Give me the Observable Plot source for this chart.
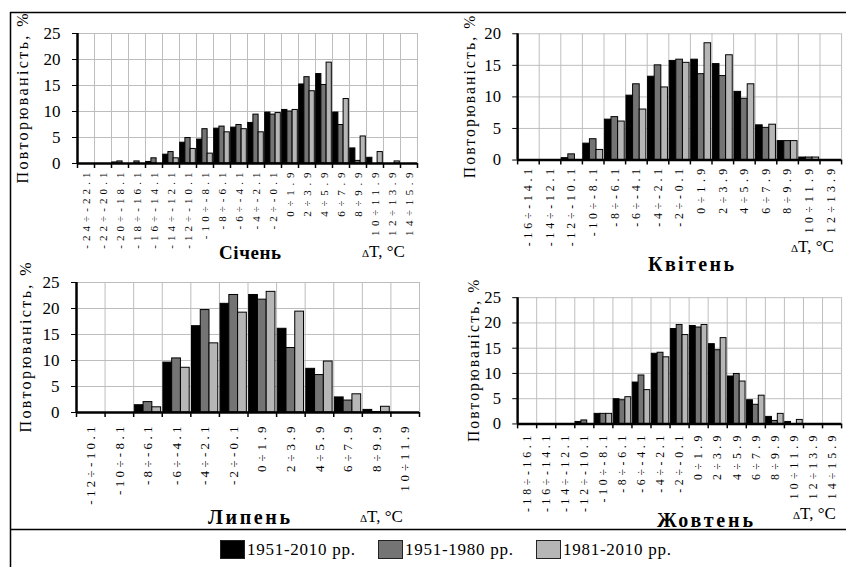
<!DOCTYPE html>
<html>
<head>
<meta charset="utf-8">
<script src="https://cdn.jsdelivr.net/npm/d3@7"></script>
<script src="https://cdn.jsdelivr.net/npm/@observablehq/plot@0.6"></script>
<style>
  html, body { margin: 0; padding: 0; background: #fff; }
  #wrap { position: relative; width: 846px; height: 567px; overflow: hidden; background: #fff; font-family: 'Liberation Serif', 'Times New Roman', Tinos, serif; }
  #wrap > svg, #wrap > .panel { position: absolute; }
  .panel svg { overflow: visible; }
</style>
</head>
<body>
<div id="wrap"></div>
<script>
// ---------- data ----------
const series = ["1951-2010 рр.", "1951-1980 рр.", "1981-2010 рр."];
const seriesColors = ["#000000", "#747474", "#b6b6b6"];

const janBins = ["-24÷-22.1","-22÷-20.1","-20÷-18.1","-18÷-16.1","-16÷-14.1","-14÷-12.1","-12÷-10.1","-10÷-8.1","-8÷-6.1","-6÷-4.1","-4÷-2.1","-2÷-0.1","0÷1.9","2÷3.9","4÷5.9","6÷7.9","8÷9.9","10÷11.9","12÷13.9","14÷15.9"];
const jan_1951_2010 = [0,0,0.2,0,0.3,1.7,4.0,4.6,6.7,6.9,7.8,9.8,10.3,15.2,17.2,9.8,2.9,1.1,0,0];
const jan_1951_1980 = [0,0,0.4,0.4,1.0,2.2,4.9,6.6,7.1,7.4,9.4,9.4,10.0,16.6,15.1,7.4,0.5,0,0,0];
const jan_1981_2010 = [0,0,0,0,0,1.0,2.8,1.9,6.0,6.6,6.0,9.7,10.3,13.9,19.4,12.4,5.2,2.2,0.4,0];

const aprBins = ["-16÷-14.1","-14÷-12.1","-12÷-10.1","-10÷-8.1","-8÷-6.1","-6÷-4.1","-4÷-2.1","-2÷-0.1","0÷1.9","2÷3.9","4÷5.9","6÷7.9","8÷9.9","10÷11.9","12÷13.9"];
const apr_1951_2010 = [0,0,0.3,2.6,6.4,10.2,13.2,15.7,15.9,15.2,10.8,5.5,3.0,0.4,0];
const apr_1951_1980 = [0,0,0.9,3.3,6.8,12.0,15.0,15.9,13.6,13.3,9.7,5.1,3.0,0.4,0];
const apr_1981_2010 = [0,0,0,1.6,6.1,8.0,11.5,15.4,18.5,16.6,12.0,5.6,3.0,0.4,0];

const julBins = ["-12÷-10.1","-10÷-8.1","-8÷-6.1","-6÷-4.1","-4÷-2.1","-2÷-0.1","0÷1.9","2÷3.9","4÷5.9","6÷7.9","8÷9.9","10÷11.9"];
const jul_1951_2010 = [0,0,1.4,9.6,16.6,20.9,22.6,16.1,8.4,2.9,0.5,0];
const jul_1951_1980 = [0,0,2.0,10.4,19.7,22.6,21.7,12.4,7.2,2.3,0.1,0];
const jul_1981_2010 = [0,0,1.0,8.6,13.3,19.2,23.2,19.4,9.8,3.5,1.1,0];

const octBins = ["-18÷-16.1","-16÷-14.1","-14÷-12.1","-12÷-10.1","-10÷-8.1","-8÷-6.1","-6÷-4.1","-4÷-2.1","-2÷-0.1","0÷1.9","2÷3.9","4÷5.9","6÷7.9","8÷9.9","10÷11.9","12÷13.9","14÷15.9"];
const oct_1951_2010 = [0,0,0,0.4,2.0,4.9,8.2,13.9,18.8,19.4,15.8,9.4,4.7,1.4,0.4,0,0];
const oct_1951_1980 = [0,0,0,0.7,2.0,4.7,9.6,14.1,19.6,19.1,14.6,9.9,3.8,0.6,0,0,0];
const oct_1981_2010 = [0,0,0,0,2.0,5.3,6.7,13.2,17.6,19.6,17.0,8.4,5.6,2.0,0.8,0,0];

const ticks25 = [0, 5, 10, 15, 20, 25];
const ticks20 = [0, 5, 10, 15, 20];

const yTitle = "Повторюваність, %";
const months = ["Січень", "Квітень", "Липень", "Жовтень"];
const dT = "ΔT, °C";

// ---------- drawing ----------
const FONT = "Liberation Serif";
const wrap = document.getElementById("wrap");
const glyphEm = {"-": 0.333, "÷": 0.549, ".": 0.25};
const emLength = s => d3.sum(Array.from(s), c => glyphEm[c] ?? 0.5);

function panel(cfg) {
  const n = cfg.bins.length;
  const rows = [];
  cfg.values.forEach((arr, k) => arr.forEach((v, i) => { if (v > 0) rows.push({i, k, v, s: series[k]}); }));
  const pad = 0.04, bw = (1 - 2 * pad) / 3;
  const svg = Plot.plot({
    width: cfg.w, height: cfg.h,
    marginLeft: cfg.ml, marginRight: cfg.mr, marginTop: cfg.mt, marginBottom: cfg.mb,
    x: {domain: [0, n], axis: null},
    y: {domain: [0, cfg.ymax], axis: null},
    color: {domain: series, range: seriesColors},
    style: {fontFamily: FONT, fontSize: "16px", background: "transparent", color: "#000", overflow: "visible"},
    marks: [
      Plot.gridY({ticks: cfg.yticks, stroke: "#bdbdbd", strokeOpacity: 1}),
      Plot.gridX({ticks: d3.range(n + 1), stroke: "#bdbdbd", strokeOpacity: 1}),
      Plot.rect(rows, {
        x1: d => d.i + pad + d.k * bw,
        x2: d => d.i + pad + (d.k + 1) * bw,
        y1: 0, y2: "v", fill: "s", stroke: "#000", strokeWidth: 1
      }),
      Plot.axisY({ticks: cfg.yticks, tickSize: 5, tickPadding: 12, fontSize: 17, fontFamily: FONT, label: null}),
      Plot.axisX({ticks: d3.range(n + 1), tickSize: 5, tickFormat: () => "", label: null, strokeWidth: 1.5}),
      // category labels under each band, rotated
      Plot.text(cfg.bins, {
        x: (d, i) => i + 0.5, y: 0, text: d => d, rotate: -90,
        textAnchor: "end", lineAnchor: "middle", dy: cfg.tp,
        fontSize: cfg.fs, fontFamily: FONT, fill: "#000"
      }),
      // y title
      Plot.text([yTitle], {
        frameAnchor: "left", text: d => d, rotate: -90, textAnchor: "middle", lineAnchor: "middle",
        dx: -cfg.lo, fontSize: 16, fontFamily: FONT, fill: "#000"
      }),
      Plot.ruleX([0], {stroke: "#000", strokeWidth: 2.5}),
      Plot.ruleY([0], {stroke: "#000", strokeWidth: 2.5})
    ]
  });
  const div = document.createElement("div");
  div.className = "panel";
  div.style.left = cfg.left + "px";
  div.style.top = cfg.top + "px";
  div.appendChild(svg);
  wrap.appendChild(div);
  // the source figure's category labels and y titles are widely spaced
  svg.querySelectorAll("text").forEach(el => {
    const s = (el.textContent || "").trim();
    if (cfg.bins.includes(s)) {
      el.setAttribute("textLength", (emLength(s) * cfg.fs * cfg.f).toFixed(1));
      el.setAttribute("lengthAdjust", "spacing");
    } else if (s === yTitle) {
      el.setAttribute("textLength", cfg.tl);
      el.setAttribute("lengthAdjust", "spacing");
    }
  });
}

panel({bins: janBins, values: [jan_1951_2010, jan_1951_1980, jan_1981_2010],
  ymax: 25, yticks: ticks25, left: 0, top: 0, w: 420, h: 260, ml: 77, mr: 3, mt: 33, mb: 97,
  lo: 55, tp: 9, fs: 11, f: 1.75, tl: 170});
panel({bins: aprBins, values: [apr_1951_2010, apr_1951_1980, apr_1981_2010],
  ymax: 20, yticks: ticks20, left: 430, top: 0, w: 425, h: 260, ml: 89, mr: 5, mt: 34, mb: 97,
  lo: 49, tp: 9, fs: 12, f: 1.66, tl: 166});
panel({bins: julBins, values: [jul_1951_2010, jul_1951_1980, jul_1981_2010],
  ymax: 25, yticks: ticks25, left: 0, top: 260, w: 425, h: 270, ml: 76, mr: 6, mt: 22, mb: 118,
  lo: 51, tp: 14, fs: 13, f: 1.52, tl: 170});
panel({bins: octBins, values: [oct_1951_2010, oct_1951_1980, oct_1981_2010],
  ymax: 25, yticks: ticks25, left: 430, top: 260, w: 425, h: 270, ml: 89, mr: 5, mt: 38, mb: 103,
  lo: 45, tp: 12, fs: 12, f: 1.64, tl: 166});

// overlay: frame lines, month titles, ΔT labels, legend
const ov = d3.select(wrap).append("svg")
  .attr("width", 846).attr("height", 567)
  .style("left", "0px").style("top", "0px").style("pointer-events", "none")
  .attr("font-family", FONT);
ov.append("line").attr("x1", 10.5).attr("x2", 10.5).attr("y1", 12).attr("y2", 567).attr("stroke", "#000").attr("stroke-width", 1.5);
ov.append("line").attr("x1", 10).attr("x2", 846).attr("y1", 12.5).attr("y2", 12.5).attr("stroke", "#000").attr("stroke-width", 1.5);
ov.append("line").attr("x1", 10).attr("x2", 846).attr("y1", 529.5).attr("y2", 529.5).attr("stroke", "#000").attr("stroke-width", 1.5);

const titles = [
  {t: months[0], x: 250, y: 259, fs: 19, L: 62},
  {t: months[1], x: 691, y: 271, fs: 20, L: 86},
  {t: months[2], x: 249, y: 524, fs: 20, L: 82},
  {t: months[3], x: 705, y: 527, fs: 20, L: 96}
];
titles.forEach(d => ov.append("text").attr("x", d.x).attr("y", d.y).attr("text-anchor", "middle")
  .attr("font-weight", "bold").attr("font-size", d.fs)
  .attr("textLength", d.L).attr("lengthAdjust", "spacing").text(d.t));

const dts = [{x: 362, y: 257}, {x: 791, y: 252}, {x: 360, y: 522}, {x: 793, y: 519}];
dts.forEach(d => {
  const t = ov.append("text").attr("x", d.x).attr("y", d.y).attr("font-size", 17);
  t.append("tspan").attr("font-size", 11).text(dT.slice(0, 1));
  t.append("tspan").text(dT.slice(1));
});

// legend (SVG)
const legX = [220, 378, 536];
series.forEach((s, k) => {
  ov.append("rect").attr("x", legX[k] + 0.5).attr("y", 540.5).attr("width", 24).attr("height", 18)
    .attr("fill", seriesColors[k]).attr("stroke", "#222").attr("stroke-width", 1);
  ov.append("text").attr("x", legX[k] + 27).attr("y", 555).attr("font-size", 17)
    .attr("textLength", 108).attr("lengthAdjust", "spacing").text(s);
});
</script>
</body>
</html>
